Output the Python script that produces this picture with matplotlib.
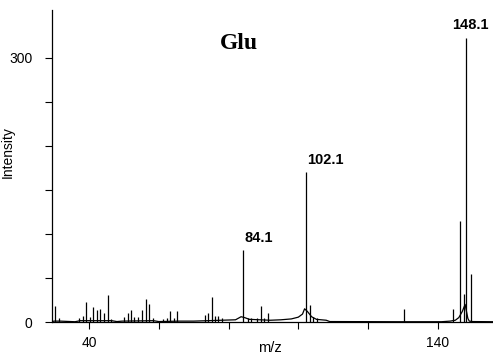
import numpy as np
import matplotlib
matplotlib.use("Agg")
import matplotlib.pyplot as plt

# picos del espectro (m/z, intensidad)
peak_mz = [30.2, 31.3, 37.2, 38.2, 39.2, 40.3, 41.2, 42.2, 43.2, 44.2, 45.4, 46.3,
           50.1, 51.1, 52.0, 53.0, 54.1, 55.1, 56.3, 57.3, 58.3, 61.3, 62.3, 63.2,
           64.3, 65.3, 73.2, 74.2, 75.2, 76.1, 77.0, 78.2,
           84.1, 85.5, 86.3, 88.3, 89.3, 90.3, 91.3,
           102.1, 103.3, 104.3, 105.3, 130.2,
           144.3, 146.4, 147.5, 148.1, 149.4]
peak_int = [18, 5, 4, 7, 23, 6, 17, 14, 15, 10, 31, 3,
            6, 10, 14, 6, 6, 14, 26, 20, 4, 3, 5, 12,
            4, 12, 8, 10, 28, 7, 7, 4,
            82, 5, 4, 4, 18, 4, 10,
            170, 19, 6, 4, 15,
            15, 115, 32, 323, 55]

# linea base entre picos
base_mz = [29.4, 30.0, 31.8, 36.0, 37.5, 46.5, 48.0, 49.5, 58.5, 60.0, 66.0, 70.0,
           78.0, 82.0, 83.6, 84.6, 86.0, 92.0, 95.0, 98.0, 100.0, 101.2, 101.8,
           102.6, 103.8, 105.2, 108.0, 109.0, 128.0, 141.0, 143.5, 145.0, 146.0,
           147.0, 147.8, 148.6, 149.0, 150.0, 155.8]
base_int = [0.5, 1.0, 1.0, 0.3, 1.5, 1.5, 0.5, 1.0, 1.5, 0.5, 1.0, 1.0,
            2.0, 2.5, 6.0, 5.0, 3.0, 2.0, 2.5, 3.5, 5.5, 9.0, 15.0,
            12.0, 6.0, 3.0, 2.0, 0.5, 0.3, 0.3, 1.0, 2.0, 5.0,
            12.0, 20.0, 4.0, 1.0, 0.5, 0.3]

# etiquetas de los picos principales
label_mz = [84.1, 102.1, 148.1]
label_int = [82, 170, 323]
label_dx = [0.5, 0.3, -3.9]   # corrimiento horizontal del texto

xticks = [40, 60, 80, 100, 120, 140]
xticklabels = ['40', '', '', '', '', '140']
yticks = [0, 50, 100, 150, 200, 250, 300]
yticklabels = ['0', '', '', '', '', '', '300']

plt.rcParams['font.family'] = ['Liberation Sans', 'DejaVu Sans']

fig = plt.figure(figsize=(4.93, 3.58), dpi=100)
ax = fig.add_axes([52 / 493, 36 / 358, 441 / 493, 312 / 358])

ax.plot(base_mz, base_int, color='black', linewidth=0.9)
ax.vlines(peak_mz, 0, peak_int, color='black', linewidth=0.9)

for m, h, dx in zip(label_mz, label_int, label_dx):
    ax.text(m + dx, h + 6, '%.1f' % m, fontsize=10.5, fontweight='bold',
            ha='left', va='bottom')

ax.text(0.424, 0.894, 'Glu', transform=ax.transAxes, fontsize=17,
        fontweight='bold', family='Liberation Serif', ha='center', va='center')

ax.set_xlim(29.4, 155.8)
ax.set_ylim(0, 354.5)
ax.set_xticks(xticks)
ax.set_xticklabels(xticklabels)
ax.set_yticks(yticks)
ax.set_yticklabels(yticklabels)
ax.tick_params(direction='out', length=5, width=0.8, labelsize=10)
ax.tick_params(axis='x', pad=5)
ax.tick_params(axis='y', pad=9)

for s in ('top', 'right'):
    ax.spines[s].set_visible(False)
for s in ('left', 'bottom'):
    ax.spines[s].set_linewidth(0.9)

ax.set_xlabel('m/z', fontsize=10.5)
ax.set_ylabel('Intensity', fontsize=10)
ax.yaxis.set_label_coords(-0.084, 0.545)
ax.xaxis.set_label_coords(0.495, -0.062)

fig.savefig('out.png', dpi=100)
